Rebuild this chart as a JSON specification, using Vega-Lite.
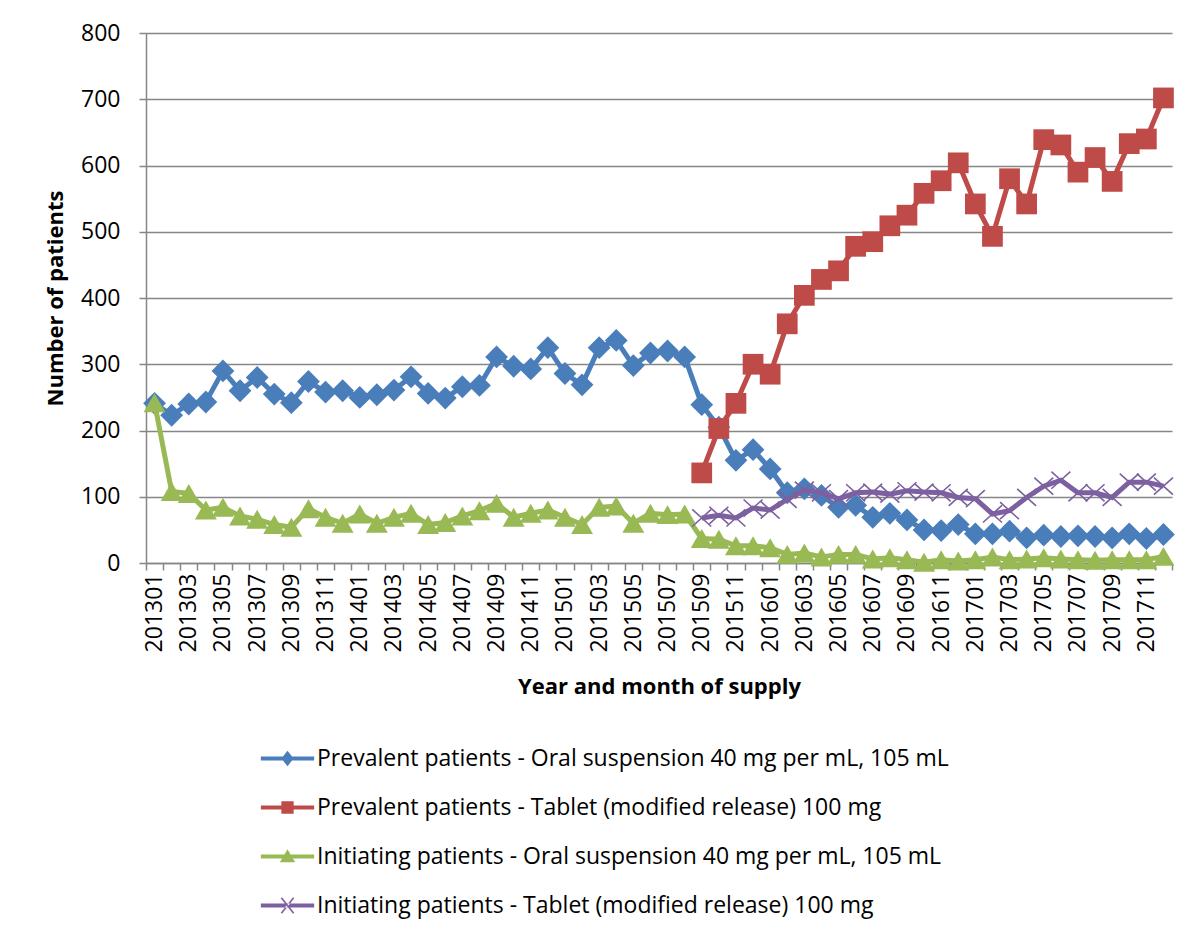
{
  "$schema": "https://vega.github.io/schema/vega-lite/v6.json",
  "width": 1026,
  "height": 530,
  "autosize": {"type": "none"},
  "padding": {"left": 146, "top": 33, "right": 26, "bottom": 374},
  "background": "white",
  "config": {
    "font": "Open Sans",
    "view": {"stroke": null},
    "axis": {
      "labelFont": "Open Sans", "labelFontSize": 23, "labelColor": "#000000",
      "titleFont": "Open Sans", "titleFontSize": 22, "titleFontWeight": "bold", "titleColor": "#000000",
      "domainColor": "#868686", "domainWidth": 1.5,
      "tickColor": "#868686", "tickWidth": 1.5,
      "gridColor": "#868686", "gridWidth": 1.5, "gridOpacity": 1
    },
    "legend": {
      "orient": "none", "legendX": 130, "legendY": 714,
      "title": null, "direction": "vertical",
      "labelFont": "Open Sans", "labelFontSize": 23, "labelColor": "#000000",
      "labelLimit": 2000, "labelOffset": 18,
      "symbolSize": 420, "rowPadding": 25,
      "symbolOpacity": 1, "symbolStrokeWidth": 0
    }
  },
  "data": {"values": [
    {"m": "201301", "ps": 241, "pt": null, "is": 242, "it": null},
    {"m": "201302", "ps": 223, "pt": null, "is": 108, "it": null},
    {"m": "201303", "ps": 240, "pt": null, "is": 105, "it": null},
    {"m": "201304", "ps": 243, "pt": null, "is": 80, "it": null},
    {"m": "201305", "ps": 290, "pt": null, "is": 84, "it": null},
    {"m": "201306", "ps": 260, "pt": null, "is": 71, "it": null},
    {"m": "201307", "ps": 280, "pt": null, "is": 66, "it": null},
    {"m": "201308", "ps": 255, "pt": null, "is": 58, "it": null},
    {"m": "201309", "ps": 242, "pt": null, "is": 54, "it": null},
    {"m": "201310", "ps": 274, "pt": null, "is": 82, "it": null},
    {"m": "201311", "ps": 258, "pt": null, "is": 69, "it": null},
    {"m": "201312", "ps": 260, "pt": null, "is": 60, "it": null},
    {"m": "201401", "ps": 250, "pt": null, "is": 74, "it": null},
    {"m": "201402", "ps": 254, "pt": null, "is": 60, "it": null},
    {"m": "201403", "ps": 261, "pt": null, "is": 69, "it": null},
    {"m": "201404", "ps": 281, "pt": null, "is": 75, "it": null},
    {"m": "201405", "ps": 256, "pt": null, "is": 58, "it": null},
    {"m": "201406", "ps": 249, "pt": null, "is": 61, "it": null},
    {"m": "201407", "ps": 266, "pt": null, "is": 71, "it": null},
    {"m": "201408", "ps": 268, "pt": null, "is": 79, "it": null},
    {"m": "201409", "ps": 311, "pt": null, "is": 90, "it": null},
    {"m": "201410", "ps": 297, "pt": null, "is": 69, "it": null},
    {"m": "201411", "ps": 293, "pt": null, "is": 75, "it": null},
    {"m": "201412", "ps": 325, "pt": null, "is": 80, "it": null},
    {"m": "201501", "ps": 286, "pt": null, "is": 69, "it": null},
    {"m": "201502", "ps": 269, "pt": null, "is": 58, "it": null},
    {"m": "201503", "ps": 325, "pt": null, "is": 84, "it": null},
    {"m": "201504", "ps": 336, "pt": null, "is": 86, "it": null},
    {"m": "201505", "ps": 298, "pt": null, "is": 60, "it": null},
    {"m": "201506", "ps": 317, "pt": null, "is": 75, "it": null},
    {"m": "201507", "ps": 320, "pt": null, "is": 73, "it": null},
    {"m": "201508", "ps": 311, "pt": null, "is": 74, "it": null},
    {"m": "201509", "ps": 239, "pt": 136, "is": 37, "it": 68},
    {"m": "201510", "ps": 205, "pt": 203, "is": 36, "it": 72},
    {"m": "201511", "ps": 155, "pt": 241, "is": 26, "it": 68},
    {"m": "201512", "ps": 171, "pt": 300, "is": 26, "it": 83},
    {"m": "201601", "ps": 142, "pt": 285, "is": 23, "it": 80},
    {"m": "201602", "ps": 106, "pt": 361, "is": 13, "it": 96},
    {"m": "201603", "ps": 112, "pt": 404, "is": 15, "it": 110},
    {"m": "201604", "ps": 102, "pt": 428, "is": 9, "it": 106},
    {"m": "201605", "ps": 84, "pt": 441, "is": 13, "it": 97},
    {"m": "201606", "ps": 87, "pt": 478, "is": 13, "it": 106},
    {"m": "201607", "ps": 69, "pt": 485, "is": 6, "it": 107},
    {"m": "201608", "ps": 75, "pt": 509, "is": 8, "it": 104},
    {"m": "201609", "ps": 65, "pt": 525, "is": 5, "it": 109},
    {"m": "201610", "ps": 50, "pt": 558, "is": 1, "it": 107},
    {"m": "201611", "ps": 49, "pt": 577, "is": 5, "it": 106},
    {"m": "201612", "ps": 58, "pt": 604, "is": 3, "it": 99},
    {"m": "201701", "ps": 44, "pt": 542, "is": 5, "it": 97},
    {"m": "201702", "ps": 44, "pt": 493, "is": 9, "it": 74},
    {"m": "201703", "ps": 48, "pt": 580, "is": 5, "it": 79},
    {"m": "201704", "ps": 38, "pt": 542, "is": 6, "it": 99},
    {"m": "201705", "ps": 42, "pt": 639, "is": 8, "it": 116},
    {"m": "201706", "ps": 40, "pt": 631, "is": 6, "it": 125},
    {"m": "201707", "ps": 41, "pt": 590, "is": 5, "it": 106},
    {"m": "201708", "ps": 40, "pt": 612, "is": 4, "it": 106},
    {"m": "201709", "ps": 38, "pt": 576, "is": 5, "it": 99},
    {"m": "201710", "ps": 44, "pt": 633, "is": 5, "it": 122},
    {"m": "201711", "ps": 37, "pt": 640, "is": 5, "it": 122},
    {"m": "201712", "ps": 43, "pt": 702, "is": 10, "it": 116}
  ]},
  "transform": [
    {"fold": ["ps", "pt", "is", "it"], "as": ["series", "value"]},
    {"filter": "isValid(datum.value)"}
  ],
  "encoding": {
    "x": {
      "field": "m", "type": "ordinal", "sort": "ascending",
      "scale": {"type": "band", "paddingInner": 0, "paddingOuter": 0},
      "axis": {
        "labelAngle": -90, "labelOverlap": false,
        "labelExpr": "toNumber(substring(datum.label, 4, 6)) % 2 == 1 ? datum.label : ''",
        "tickBand": "extent", "tickSize": 7, "labelPadding": 3,
        "grid": false, "title": "Year and month of supply", "titlePadding": 25
      }
    },
    "y": {
      "field": "value", "type": "quantitative",
      "scale": {"domain": [0, 800], "nice": false},
      "axis": {
        "values": [0, 100, 200, 300, 400, 500, 600, 700, 800],
        "tickSize": 7, "labelPadding": 19, "grid": true,
        "title": "Number of patients", "titlePadding": 13
      }
    }
  },
  "layer": [
    {"transform": [{"filter": "datum.series == 'ps'"}], "mark": {"type": "line", "color": "#4A7EBB", "strokeWidth": 5}},
    {"transform": [{"filter": "datum.series == 'ps'"}], "mark": {"type": "point", "shape": "diamond", "filled": true, "opacity": 1, "color": "#4A7EBB", "size": 520}},
    {"transform": [{"filter": "datum.series == 'pt'"}], "mark": {"type": "line", "color": "#BE4B48", "strokeWidth": 5}},
    {"transform": [{"filter": "datum.series == 'pt'"}], "mark": {"type": "point", "shape": "square", "filled": true, "opacity": 1, "color": "#BE4B48", "size": 430}},
    {"transform": [{"filter": "datum.series == 'is'"}], "mark": {"type": "line", "color": "#98B954", "strokeWidth": 5}},
    {"transform": [{"filter": "datum.series == 'is'"}], "mark": {"type": "point", "shape": "triangle-up", "filled": true, "opacity": 1, "color": "#98B954", "size": 480}},
    {"transform": [{"filter": "datum.series == 'it'"}], "mark": {"type": "line", "color": "#7D60A0", "strokeWidth": 5}},
    {"transform": [{"filter": "datum.series == 'it'"}], "mark": {"type": "point", "shape": "M-1,-0.9L1,0.9M-1,0.9L1,-0.9", "filled": false, "opacity": 1, "color": "#7D60A0", "strokeWidth": 1.6, "size": 360}},
    {
      "mark": {"type": "point", "filled": true, "opacity": 0},
      "encoding": {
        "color": {
          "field": "series", "type": "nominal",
          "scale": {"domain": ["ps", "pt", "is", "it"], "range": ["#4A7EBB", "#BE4B48", "#98B954", "#7D60A0"]},
          "legend": {
            "labelExpr": "datum.label == 'ps' ? 'Prevalent patients - Oral suspension 40 mg per mL, 105 mL' : datum.label == 'pt' ? 'Prevalent patients - Tablet (modified release) 100 mg' : datum.label == 'is' ? 'Initiating patients - Oral suspension 40 mg per mL, 105 mL' : 'Initiating patients - Tablet (modified release) 100 mg'"
          }
        },
        "shape": {
          "field": "series", "type": "nominal",
          "scale": {
            "domain": ["ps", "pt", "is", "it"],
            "range": [
              "M-2.6,-0.2H2.6V0.2H-2.6Z M0,-0.75L0.6,0L0,0.75L-0.6,0Z",
              "M-2.6,-0.2H2.6V0.2H-2.6Z M-0.6,-0.6H0.6V0.6H-0.6Z",
              "M-2.6,-0.2H2.6V0.2H-2.6Z M0,-0.7L0.75,0.55H-0.75Z",
              "M-2.6,-0.2H2.6V0.2H-2.6Z M-0.5375,-0.8L0.6625,0.7L0.5375,0.8L-0.6625,-0.7Z M0.5375,-0.8L-0.6625,0.7L-0.5375,0.8L0.6625,-0.7Z"
            ]
          },
          "legend": {
            "labelExpr": "datum.label == 'ps' ? 'Prevalent patients - Oral suspension 40 mg per mL, 105 mL' : datum.label == 'pt' ? 'Prevalent patients - Tablet (modified release) 100 mg' : datum.label == 'is' ? 'Initiating patients - Oral suspension 40 mg per mL, 105 mL' : 'Initiating patients - Tablet (modified release) 100 mg'"
          }
        }
      }
    }
  ]
}
